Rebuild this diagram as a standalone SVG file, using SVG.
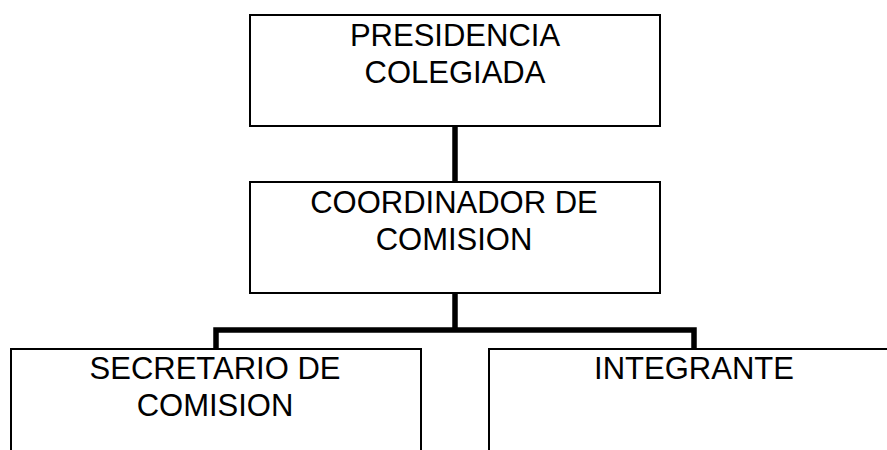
<svg xmlns="http://www.w3.org/2000/svg" width="887" height="450" viewBox="0 0 887 450">
<style>
.box{fill:#fff;stroke:#000;stroke-width:2}
.conn{fill:none;stroke:#000;stroke-width:5.5}
text{font-family:"Liberation Sans",Arial,sans-serif;font-size:31px;fill:#000;text-anchor:middle}
</style>
<rect width="887" height="450" fill="#fff"/>
<g id="connectors">
<line class="conn" x1="455" y1="126" x2="455" y2="182"/>
<line class="conn" x1="455" y1="293" x2="455" y2="330"/>
<polyline class="conn" points="216,349 216,330 694,330 694,349"/>
</g>
<g id="presidencia">
<rect class="box" x="250" y="15" width="410" height="111"/>
<text x="455" y="46">PRESIDENCIA</text>
<text x="455" y="82.5">COLEGIADA</text>
</g>
<g id="coordinador">
<rect class="box" x="250" y="182" width="410" height="111"/>
<text x="454" y="213">COORDINADOR DE</text>
<text x="454" y="250">COMISION</text>
</g>
<g id="secretario">
<rect class="box" x="11" y="349" width="410" height="111"/>
<text x="215" y="379">SECRETARIO DE</text>
<text x="215" y="416">COMISION</text>
</g>
<g id="integrante">
<rect class="box" x="489" y="349" width="410" height="111"/>
<text x="694" y="379">INTEGRANTE</text>
</g>
</svg>
